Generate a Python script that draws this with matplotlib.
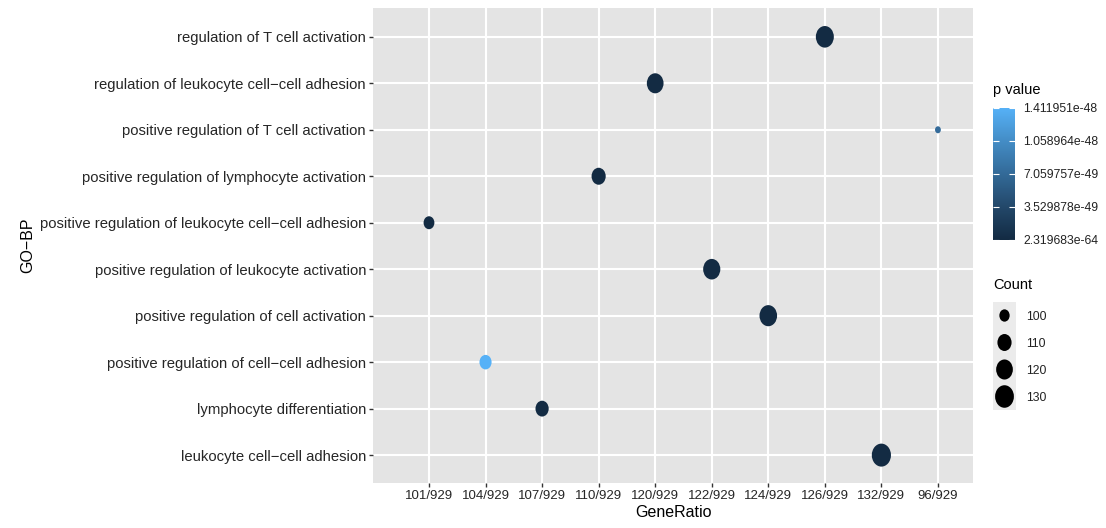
import numpy as np
import matplotlib
matplotlib.use("Agg")
import matplotlib.pyplot as plt
from matplotlib.colors import LinearSegmentedColormap, Normalize
from matplotlib.path import Path
from matplotlib.transforms import Affine2D

plt.rcParams["font.family"] = ["Liberation Sans", "DejaVu Sans"]

# GO-BP terms, top to bottom as in the chart
terms = [
    "regulation of T cell activation",
    "regulation of leukocyte cell\u2212cell adhesion",
    "positive regulation of T cell activation",
    "positive regulation of lymphocyte activation",
    "positive regulation of leukocyte cell\u2212cell adhesion",
    "positive regulation of leukocyte activation",
    "positive regulation of cell activation",
    "positive regulation of cell\u2212cell adhesion",
    "lymphocyte differentiation",
    "leukocyte cell\u2212cell adhesion",
]
counts = [126, 120, 96, 110, 101, 122, 124, 104, 107, 132]
pvals = [3.1e-62, 5.4e-60, 7.2e-49, 2.6e-58, 4.1e-55, 8.3e-61, 1.9e-61,
         1.411951e-48, 6.5e-56, 2.319683e-64]
total = 929

# discrete x levels, sorted like strings (as in the reference)
ratio_levels = sorted(f"{c}/{total}" for c in set(counts))
pv_ticks = [2.319683e-64, 3.529878e-49, 7.059757e-49, 1.058964e-48, 1.411951e-48]
pv_labels = ["2.319683e-64", "3.529878e-49", "7.059757e-49", "1.058964e-48", "1.411951e-48"]
count_breaks = [100, 110, 120, 130]

cmap = LinearSegmentedColormap.from_list(
    "gg", ["#132B43", "#23486A", "#336A98", "#448DC6", "#56B1F7"])
norm = Normalize(vmin=min(pvals), vmax=max(pvals))

cmin, cmax = min(counts), max(counts)


def dot_size(c):
    # ggplot-like area scale (range 1..6) -> pixel height -> points^2
    s = 1 + 5 * np.sqrt((c - cmin) / (cmax - cmin))
    h_px = 3.2 * s + 3.8
    return (h_px * 0.72) ** 2


# slightly tall ellipse marker (reference image is squeezed horizontally)
ell = Path.unit_circle().transformed(Affine2D().scale(1.0, 1.2))

fig = plt.figure(figsize=(11.06, 5.28), dpi=100)
ax = fig.add_axes([373 / 1106, 1 - 483 / 528, 600 / 1106, 475 / 528])
ax.set_facecolor("#E4E4E4")

ypos = {t: len(terms) - i for i, t in enumerate(terms)}
xs = [ratio_levels.index(f"{c}/{total}") for c in counts]
ys = [ypos[t] for t in terms]
ax.scatter(xs, ys, s=[dot_size(c) for c in counts], c=pvals, cmap=cmap,
           norm=norm, marker=ell, linewidths=0, zorder=3)

ax.set_xticks(range(len(ratio_levels)))
ax.set_xticklabels(ratio_levels)
ax.set_yticks([ypos[t] for t in terms])
ax.set_yticklabels(terms)
ax.set_xlim(-0.99, len(ratio_levels) - 1 + 0.62)
ax.set_ylim(0.4, len(terms) + 0.62)
ax.grid(True, color="white", linewidth=1.5)
ax.set_axisbelow(True)
for sp in ax.spines.values():
    sp.set_visible(False)
ax.tick_params(length=3, width=1, color="#333333", labelcolor="#262626",
               pad=2)
ax.tick_params(axis="y", labelsize=10.7)
ax.tick_params(axis="x", labelsize=9.5)
ax.set_xlabel("GeneRatio", fontsize=11.5, color="black", labelpad=2)
ax.set_ylabel("GO\u2212BP", fontsize=11.5, color="black", labelpad=3)

# p value colour bar
cax = fig.add_axes([993 / 1106, 1 - 240 / 528, 22 / 1106, 132 / 528])
grad = np.linspace(norm.vmin, norm.vmax, 256).reshape(-1, 1)
cax.imshow(grad, aspect="auto", cmap=cmap, norm=norm, origin="lower",
           extent=[0, 1, norm.vmin, norm.vmax])
cax.set_xticks([])
cax.set_yticks(pv_ticks)
cax.set_yticklabels(pv_labels)
cax.yaxis.set_ticks_position("both")
cax.yaxis.set_label_position("right")
cax.tick_params(axis="y", direction="in", length=4, color="white",
                labelleft=False, labelright=True, labelsize=8.8,
                labelcolor="#222222", pad=6)
for sp in cax.spines.values():
    sp.set_visible(False)
fig.text(993 / 1106, 1 - 90 / 528, "p value", fontsize=10.5, va="center")

# Count size legend
kax = fig.add_axes([993 / 1106, 1 - 410 / 528, 23 / 1106, 108 / 528])
kax.set_facecolor("#EBEBEB")
kax.scatter([0] * len(count_breaks), range(len(count_breaks)),
            s=[dot_size(c) for c in count_breaks], c="black", marker=ell,
            linewidths=0)
kax.set_xlim(-1, 1)
kax.set_ylim(len(count_breaks) - 0.5, -0.5)
kax.set_xticks([])
kax.set_yticks(range(len(count_breaks)))
kax.set_yticklabels([str(c) for c in count_breaks])
kax.tick_params(axis="y", length=0, labelleft=False, labelright=True,
                labelsize=8.8, labelcolor="#222222", pad=7)
for sp in kax.spines.values():
    sp.set_visible(False)
fig.text(993 / 1106, 1 - 285 / 528, "Count", fontsize=10.5, va="center")

fig.savefig("out.png", dpi=100)
